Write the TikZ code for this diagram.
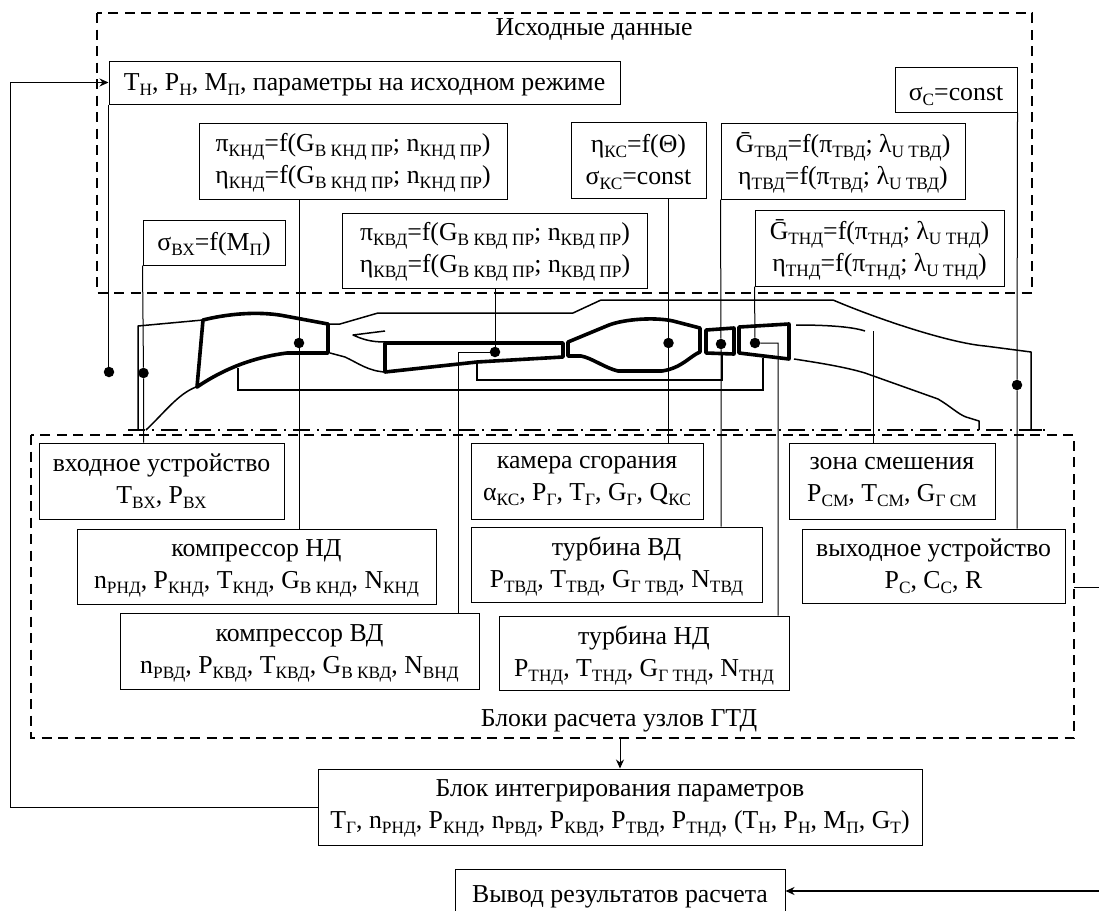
\documentclass[tikz,border=0pt]{standalone}
\usepackage{fontspec}
\setmainfont{Liberation Serif}
\usetikzlibrary{positioning,arrows.meta,calc}
\newcommand{\sbs}[1]{\smash{\raisebox{-5pt}{\fontsize{17.3}{17.3}\selectfont #1}}}
\tikzset{
  unit/.style={draw, line width=1pt, fill=white, align=center, inner sep=0pt, font=\fontsize{25.8}{32}\selectfont,
    execute at begin node={\rule{0pt}{22pt}}},
  zone/.style={draw, line width=1.8pt, dash pattern=on 10pt off 6.5pt},
  lbl/.style={inner sep=0pt, font=\fontsize{25.8}{32}\selectfont},
  dot/.style={circle, fill=black, inner sep=0pt, minimum size=10.5pt},
  link/.style={line width=1pt},
  fb/.style={line width=1pt, -{Stealth[length=9pt,width=8pt]}},
  skin/.style={line width=1.5pt, line join=round},
  wall/.style={line width=3.6pt, line join=round},
  shaft/.style={line width=2pt, line join=miter},
  axisl/.style={line width=1.3pt, dash pattern=on 17pt off 7pt on 2pt off 7pt},
}
\begin{document}
\begin{tikzpicture}[x=1pt,y=-1pt]
\useasboundingbox (0,0) rectangle (1099,910);
%% ---- outer dashed frames
\draw[zone] (97,13) rectangle (1032,293);
\draw[zone] (31,435) rectangle (1074,738);
\node[lbl] (srcttl) at (594,30) {Исходные данные};
\node[lbl] (blkttl) at (619,721) {Блоки расчета узлов ГТД};

%% ---- the engine, drawn directly
\draw[axisl] (128,430) -- (1045,430);
\draw[skin] (138,430) -- (138,326) -- (203,320);
\draw[skin] (146,430) .. controls (165,412) and (178,394) .. (196,387);
\draw[skin] (328,324) -- (340,324) -- (378,313) -- (573,313) -- (601,300) -- (833,300)
  .. controls (880,320) and (950,343) .. (985,346) -- (1031,352) -- (1031,430);
\draw[skin] (1020,430) -- (1042,430);
\draw[skin] (330,353) -- (345,357) .. controls (358,363) and (368,371) .. (385,372);
\draw[skin] (385,331) -- (353,335) .. controls (362,339) and (370,342) .. (385,342);
\draw[skin] (796,325) .. controls (820,325) and (850,326) .. (865,331);
\draw[skin] (794,359) .. controls (820,363) and (845,367) .. (865,373) -- (938,399)
  .. controls (950,406) and (958,414) .. (966,417) -- (979,421) -- (979,430);
%% compressors
\draw[wall] (203,320) .. controls (235,312) and (265,312) .. (285,316) -- (328,324) -- (328,353)
  -- (287,353) .. controls (255,357) and (225,368) .. (197,387) -- cycle;
\draw[wall] (385,343) -- (563,343) -- (563,357) -- (477,362) -- (385,372) -- cycle;
%% combustor
\draw[wall] (568,342) -- (609,325) .. controls (625,319) and (655,317) .. (673,321) -- (700,328)
  -- (700,352) .. controls (690,356) and (682,368) .. (662,371) -- (618,371)
  .. controls (605,368) and (592,358) .. (581,356) -- (568,356) -- cycle;
%% turbines
\draw[wall] (706,330) -- (734,328) -- (734,354) -- (706,353) -- cycle;
\draw[wall] (739,327) -- (789,324) -- (789,359) -- (739,353) -- cycle;
%% shafts
\draw[shaft] (238,368) -- (238,390) -- (763,390) -- (763,358);
\draw[shaft] (477,363) -- (477,380) -- (722,380) -- (722,354);

%% ---- source data boxes
\node[unit, minimum width=511pt, minimum height=43pt] (tnp) at (364.5,82.5)
  {T\sbs{Н}, P\sbs{Н}, M\sbs{П}, параметры на исходном режиме};
\node[unit, minimum width=122pt, minimum height=45pt] (sgc) at (956,89.5) {σ\sbs{C}=const};
\node[unit, minimum width=308pt, minimum height=76pt] (pkn) at (353,161)
  {π\sbs{КНД}=f(G\sbs{В КНД ПР}; n\sbs{КНД ПР})\\η\sbs{КНД}=f(G\sbs{В КНД ПР}; n\sbs{КНД ПР})};
\node[unit, minimum width=135pt, minimum height=76pt] (ekc) at (638.5,160)
  {η\sbs{КС}=f(Θ)\\σ\sbs{КС}=const};
\node[unit, minimum width=244pt, minimum height=76pt] (gtv) at (843,161)
  {\=G\sbs{ТВД}=f(π\sbs{ТВД}; λ\sbs{U ТВД})\\η\sbs{ТВД}=f(π\sbs{ТВД}; λ\sbs{U ТВД})};
\node[unit, minimum width=142pt, minimum height=45pt] (sgb) at (214,242.5) {σ\sbs{ВХ}=f(M\sbs{П})};
\node[unit, minimum width=305pt, minimum height=75pt] (pkv) at (495,250.5)
  {π\sbs{КВД}=f(G\sbs{В КВД ПР}; n\sbs{КВД ПР})\\η\sbs{КВД}=f(G\sbs{В КВД ПР}; n\sbs{КВД ПР})};
\node[unit, minimum width=249pt, minimum height=76pt] (gtn) at (879.5,248)
  {\=G\sbs{ТНД}=f(π\sbs{ТНД}; λ\sbs{U ТНД})\\η\sbs{ТНД}=f(π\sbs{ТНД}; λ\sbs{U ТНД})};

%% ---- unit calculation boxes
\node[unit, minimum width=245pt, minimum height=76pt] (inl) at (161.5,481)
  {входное устройство\\T\sbs{ВХ}, P\sbs{ВХ}};
\node[unit, minimum width=359pt, minimum height=75pt] (cnd) at (256.5,566.5)
  {компрессор НД\\n\sbs{РНД}, P\sbs{КНД}, T\sbs{КНД}, G\sbs{В КНД}, N\sbs{КНД}};
\node[unit, minimum width=359pt, minimum height=76pt] (cvd) at (299.5,651)
  {компрессор ВД\\n\sbs{РВД}, P\sbs{КВД}, T\sbs{КВД}, G\sbs{В КВД}, N\sbs{ВНД}};
\node[unit, minimum width=232pt, minimum height=76pt] (cmb) at (587,481)
  {камера сгорания\\α\sbs{КС}, P\sbs{Г}, T\sbs{Г}, G\sbs{Г}, Q\sbs{КС}};
\node[unit, minimum width=291pt, minimum height=75pt] (tvd) at (616.5,564.5)
  {турбина ВД\\P\sbs{ТВД}, T\sbs{ТВД}, G\sbs{Г ТВД}, N\sbs{ТВД}};
\node[unit, minimum width=290pt, minimum height=74pt] (tnd) at (644,653)
  {турбина НД\\P\sbs{ТНД}, T\sbs{ТНД}, G\sbs{Г ТНД}, N\sbs{ТНД}};
\node[unit, minimum width=206pt, minimum height=76pt] (mix) at (892,481)
  {зона смешения\\P\sbs{СМ}, T\sbs{СМ}, G\sbs{Г СМ}};
\node[unit, minimum width=263pt, minimum height=74pt] (noz) at (933.5,566)
  {выходное устройство\\P\sbs{C}, C\sbs{C}, R};
\node[unit, minimum width=604pt, minimum height=76pt] (intg) at (620,807)
  {Блок интегрирования параметров\\T\sbs{Г}, n\sbs{РНД}, P\sbs{КНД}, n\sbs{РВД}, P\sbs{КВД}, P\sbs{ТВД}, P\sbs{ТНД}, (T\sbs{Н}, P\sbs{Н}, M\sbs{П}, G\sbs{Т})};
\node[unit, minimum width=330pt, minimum height=50pt] (outp) at (620,894) {Вывод результатов расчета};

%% ---- measuring points
\node[dot] (dtn) at (109,372) {};
\node[dot] (dsb) at (143.5,373) {};
\node[dot] (dkn) at (299,343) {};
\node[dot] (dkv) at (495,352) {};
\node[dot] (dkc) at (668.5,343) {};
\node[dot] (dtv) at (721,344) {};
\node[dot] (dtd) at (755,343) {};
\node[dot] (dsc) at (1017,385) {};
\coordinate (mixtop) at (873,331);
\coordinate (kvbend) at (458,352);
\coordinate (tdbend) at (778,343);

%% ---- links from the boxes through the engine
\draw[link] (tnp.south west) -- (tnp.south west |- dtn) -- (dtn);
\draw[link] (sgb.south west) -- (dsb) -- (inl.north -| dsb);
\draw[link] (pkn.south -| dkn) -- (dkn) -- (cnd.north -| dkn);
\draw[link] (pkv.south) -- (dkv) -- (kvbend) -- (cvd.north -| kvbend);
\draw[link] (ekc.south -| dkc) -- (dkc) -- (cmb.north -| dkc);
\draw[link] (gtv.south west) -- (dtv) -- (tvd.north -| dtv);
\draw[link] (gtn.south west) -- (dtd) -- (tdbend) -- (tnd.north -| tdbend);
\draw[link] (mixtop) -- (mix.north -| mixtop);
\draw[link] (sgc.south east) -- (dsc) -- (noz.north -| dsc);

%% ---- output and feedback
\coordinate (frmright) at (1074,587);
\coordinate (edgea) at (1099,587);
\coordinate (edgeb) at (1099,891);
\coordinate (frmbot) at (620,738);
\coordinate (fbleft) at (10,807);
\draw[link] (frmright) -- (edgea);
\draw[fb, line width=1.6pt] (edgeb) -- (outp.east |- edgeb);
\draw[fb] (frmbot) -- (intg.north);
\draw[fb] (intg.west) -- (fbleft) -- (fbleft |- tnp.west) -- (tnp.west);
\end{tikzpicture}
\end{document}
